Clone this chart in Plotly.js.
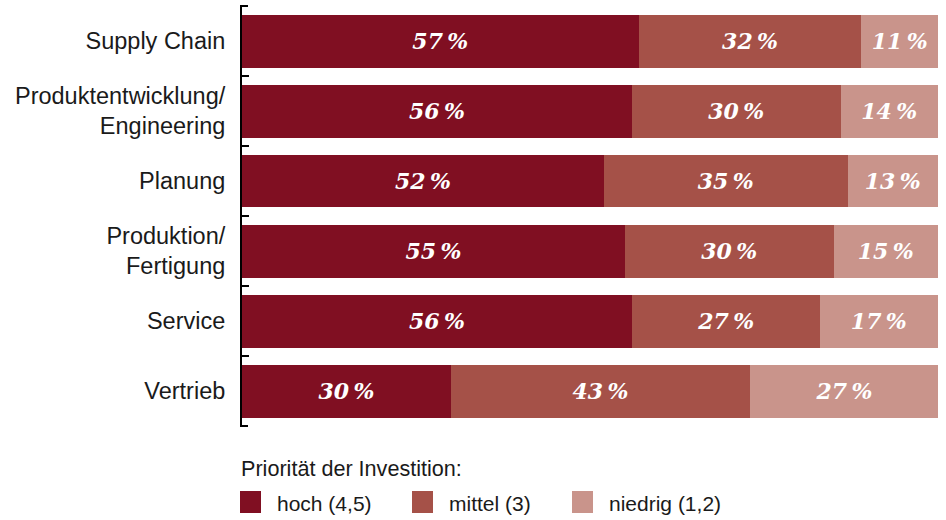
<!DOCTYPE html>
<html><head><meta charset="utf-8">
<script src="https://cdn.plot.ly/plotly-3.0.1.min.js"></script>
<style>html,body{margin:0;padding:0;background:#fff}#chart{width:946px;height:520px}</style>
</head><body><div id="chart"></div>
<script>
const categories = ["Supply Chain", "Produktentwicklung/<br>Engineering", "Planung", "Produktion/<br>Fertigung", "Service", "Vertrieb"];
const hoch = [57, 56, 52, 55, 56, 30];
const mittel = [32, 30, 35, 30, 27, 43];
const niedrig = [11, 14, 13, 15, 17, 27];
const seriesNames = ["hoch (4,5)", "mittel (3)", "niedrig (1,2)"];
const legendTitle = "Priorität der Investition:";

const colors = ["#800F22", "#A55148", "#C9948B"];
const W = 946, H = 520, M = {l: 242, r: 8, t: 6, b: 94};
const pw = W - M.l - M.r, ph = H - M.t - M.b;
const px = x => (x - M.l) / pw, py = y => (H - M.b - y) / ph;

const series = [hoch, mittel, niedrig];
const traces = series.map((vals, i) => ({
  type: 'bar', orientation: 'h', y: categories, x: vals, name: seriesNames[i],
  marker: {color: colors[i], line: {width: 0}},
  texttemplate: '%{x}\u2009%', textposition: 'inside', insidetextanchor: 'middle',
  constraintext: 'none', textangle: 0,
  textfont: {family: 'DejaVu Serif', size: 22, color: '#ffffff', weight: 'bold', style: 'italic'},
  hoverinfo: 'skip', showlegend: false
}));

const swatchX = [240, 412, 572], textX = [275, 447, 607];
const shapes = seriesNames.map((n, i) => ({
  type: 'rect', xref: 'paper', yref: 'paper',
  x0: px(swatchX[i]), x1: px(swatchX[i] + 21), y0: py(513), y1: py(491),
  fillcolor: colors[i], line: {width: 0}
}));
// end ticks of the category axis (outer boundaries)
[0, 1].forEach(v => shapes.push({type: 'line', xref: 'paper', yref: 'paper',
  x0: px(240), x1: px(248), y0: v, y1: v, line: {color: '#000', width: 2}}));

const legFont = {family: 'Liberation Sans', size: 21, color: '#1a1a1a'};
const annotations = seriesNames.map((n, i) => ({
  text: n, xref: 'paper', yref: 'paper', x: px(textX[i]), y: py(503),
  xanchor: 'left', yanchor: 'middle', showarrow: false, font: legFont
}));
annotations.push({text: legendTitle, xref: 'paper', yref: 'paper', x: px(239), y: py(468),
  xanchor: 'left', yanchor: 'middle', showarrow: false,
  font: {family: 'Liberation Sans', size: 21.6, color: '#1a1a1a'}});

const layout = {
  width: W, height: H, margin: M, paper_bgcolor: '#fff', plot_bgcolor: '#fff',
  barmode: 'stack', bargap: 0.243, showlegend: false, hovermode: false,
  xaxis: {range: [0, 100], visible: false, fixedrange: true},
  yaxis: {type: 'category', range: [5.5, -0.5], showline: true, linecolor: '#000', linewidth: 2,
    ticks: 'inside', ticklen: 7, tickwidth: 2, tickcolor: '#000', tickson: 'boundaries',
    ticklabelstandoff: 10,
    tickfont: {family: 'Liberation Sans', size: 23.5, color: '#1a1a1a'},
    showgrid: false, zeroline: false, fixedrange: true},
  shapes: shapes, annotations: annotations
};
Plotly.newPlot('chart', traces, layout, {displayModeBar: false, staticPlot: true});
</script>
</body></html>
